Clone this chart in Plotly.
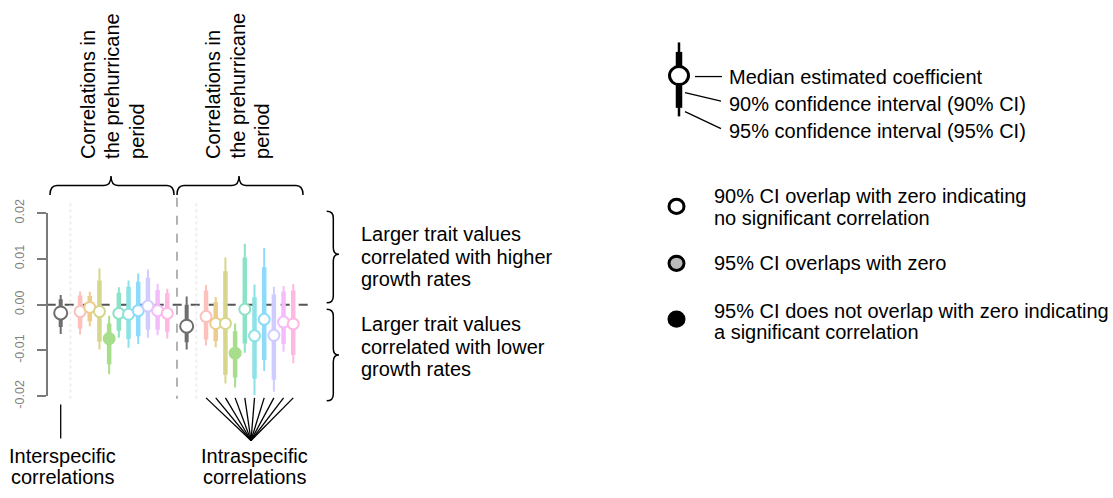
import plotly.graph_objects as go

W, H = 1113, 498

# ---------------- data ----------------
species_colors = ["#F8766D", "#D89000", "#A3A500", "#39B600", "#00BF7D",
                  "#00BFC4", "#00B0F6", "#9590FF", "#E76BF3", "#FF62BC"]

# interspecific estimate, first block
set1_inter_med = -0.0018
set1_inter_lo95 = -0.0064
set1_inter_lo90 = -0.0049
set1_inter_hi90 = 0.0012
set1_inter_hi95 = 0.0021

# intraspecific estimates, first block
set1_med = [-0.0015, -0.0006, -0.0015, -0.0074, -0.0019, -0.0021, -0.0013, -0.0003, -0.0013, -0.0019]
set1_lo95 = [-0.0065, -0.0047, -0.0098, -0.0152, -0.0072, -0.0094, -0.0086, -0.0072, -0.0067, -0.0074]
set1_lo90 = [-0.0052, -0.0036, -0.0081, -0.0130, -0.0057, -0.0075, -0.0069, -0.0055, -0.0055, -0.0059]
set1_hi90 = [0.0020, 0.0019, 0.0053, -0.0041, 0.0026, 0.0039, 0.0050, 0.0059, 0.0032, 0.0025]
set1_hi95 = [0.0029, 0.0028, 0.0079, -0.0024, 0.0038, 0.0053, 0.0068, 0.0077, 0.0046, 0.0035]

# interspecific estimate, second block
set2_inter_med = -0.0047
set2_inter_lo95 = -0.0098
set2_inter_lo90 = -0.0082
set2_inter_hi90 = 0.0000
set2_inter_hi95 = 0.0018

# intraspecific estimates, second block
set2_med = [-0.0026, -0.0041, -0.0041, -0.0106, -0.0010, -0.0068, -0.0032, -0.0067, -0.0038, -0.0042]
set2_lo95 = [-0.0089, -0.0093, -0.0172, -0.0181, -0.0105, -0.0198, -0.0145, -0.0190, -0.0103, -0.0128]
set2_lo90 = [-0.0076, -0.0080, -0.0153, -0.0159, -0.0085, -0.0162, -0.0121, -0.0164, -0.0086, -0.0110]
set2_hi90 = [0.0031, 0.0006, 0.0073, -0.0058, 0.0103, 0.0016, 0.0082, 0.0022, 0.0029, 0.0031]
set2_hi95 = [0.0043, 0.0017, 0.0103, -0.0041, 0.0133, 0.0044, 0.0124, 0.0039, 0.0041, 0.0045]

y_ticks = [-0.02, -0.01, 0.0, 0.01, 0.02]
y_ticktext = ["-0.02", "-0.01", "0.00", "0.01", "0.02"]

group_title = ["Correlations in", "the prehurricane", "period"]
upper_note = ["Larger trait values", "correlated with higher", "growth rates"]
lower_note = ["Larger trait values", "correlated with lower", "growth rates"]
key_lines = ["Median estimated coefficient",
             "90% confidence interval (90% CI)",
             "95% confidence interval (95% CI)"]
sig_open = ["90% CI overlap with zero indicating", "no significant correlation"]
sig_gray = ["95% CI overlaps with zero"]
sig_full = ["95% CI does not overlap with zero indicating", "a significant correlation"]
inter_label = ["Interspecific", "correlations"]
intra_label = ["Intraspecific", "correlations"]

# ---------------- layout geometry ----------------
X0, S = 60.7, 9.69            # pixel of slot 0, pixels per slot
ZERO_PX, PX_PER_UNIT = 306.7, 4830.0
FONT = "Liberation Sans, Arial, sans-serif"
FS = 20
GRAY = "#6e6e6e"


def slot_px(s):
    return X0 + S * s


def val_px(v):
    return ZERO_PX - PX_PER_UNIT * v


def px(x):
    return x / W


def py(y):
    return 1 - y / H


def pastel(hexc, a=0.45):
    r, g, b = (int(hexc[i:i + 2], 16) for i in (1, 3, 5))
    mix = [round(255 - a * (255 - c)) for c in (r, g, b)]
    return "rgb({},{},{})".format(*mix)


fig = go.Figure()


def add_estimate(slot, med, lo95, lo90, hi90, hi95, color, size, thin, thick):
    fig.add_trace(go.Scatter(x=[slot, slot], y=[lo95, hi95], mode="lines",
                             line=dict(color=color, width=thin), hoverinfo="skip"))
    fig.add_trace(go.Scatter(x=[slot, slot], y=[lo90, hi90], mode="lines",
                             line=dict(color=color, width=thick), hoverinfo="skip"))
    if hi95 < 0 or lo95 > 0:
        fill = color
    elif hi90 < 0 or lo90 > 0:
        fill = "#bbbbbb"
    else:
        fill = "white"
    fig.add_trace(go.Scatter(x=[slot], y=[med], mode="markers",
                             marker=dict(size=size, color=fill,
                                         line=dict(color=color, width=2))))


blocks = [
    (0, (set1_inter_med, set1_inter_lo95, set1_inter_lo90, set1_inter_hi90, set1_inter_hi95),
     (set1_med, set1_lo95, set1_lo90, set1_hi90, set1_hi95)),
    (13, (set2_inter_med, set2_inter_lo95, set2_inter_lo90, set2_inter_hi90, set2_inter_hi95),
     (set2_med, set2_lo95, set2_lo90, set2_hi90, set2_hi95)),
]

shapes = []
annotations = []

y_top_px, y_bot_px = val_px(0.02), val_px(-0.02)

# zero reference line
axis_px = 46.7
shapes.append(dict(type="line", xref="paper", yref="y", x0=px(axis_px), x1=px(311.7),
                   y0=0, y1=0, line=dict(color="#555555", width=2, dash="dash"), layer="below"))

for base, inter, intra in blocks:
    # faint guide separating interspecific and intraspecific estimates
    gx = slot_px(base + 1)
    shapes.append(dict(type="line", xref="paper", yref="paper", x0=px(gx), x1=px(gx),
                       y0=py(200), y1=py(406), line=dict(color="#ededed", width=2, dash="dot"),
                       layer="below"))
    add_estimate(base, *inter, GRAY, 13, 2, 4)
    med, lo95, lo90, hi90, hi95 = intra
    for i, c in enumerate(species_colors):
        add_estimate(base + 2 + i, med[i], lo95[i], lo90[i], hi90[i], hi95[i],
                     pastel(c), 11, 2, 4.5)

# dashed separator between blocks
sx = slot_px(12)
shapes.append(dict(type="line", xref="paper", yref="paper", x0=px(sx), x1=px(sx),
                   y0=py(194), y1=py(406), line=dict(color="#9a9a9a", width=1.5, dash="dash"),
                   layer="below"))


def hbrace(x1, x2, xm, y_end, y_body, y_tip, r=7):
    p = [
        f"M {px(x1)} {py(y_end)}",
        f"Q {px(x1)} {py(y_body)} {px(x1 + r)} {py(y_body)}",
        f"L {px(xm - r)} {py(y_body)}",
        f"Q {px(xm)} {py(y_body)} {px(xm)} {py(y_tip)}",
        f"Q {px(xm)} {py(y_body)} {px(xm + r)} {py(y_body)}",
        f"L {px(x2 - r)} {py(y_body)}",
        f"Q {px(x2)} {py(y_body)} {px(x2)} {py(y_end)}",
    ]
    return dict(type="path", xref="paper", yref="paper", path=" ".join(p),
                line=dict(color="black", width=1.5))


def vbrace(y1, y2, ym, x_end, x_body, x_tip, r=7):
    p = [
        f"M {px(x_end)} {py(y1)}",
        f"Q {px(x_body)} {py(y1)} {px(x_body)} {py(y1 + r)}",
        f"L {px(x_body)} {py(ym - r)}",
        f"Q {px(x_body)} {py(ym)} {px(x_tip)} {py(ym)}",
        f"Q {px(x_body)} {py(ym)} {px(x_body)} {py(ym + r)}",
        f"L {px(x_body)} {py(y2 - r)}",
        f"Q {px(x_body)} {py(y2)} {px(x_end)} {py(y2)}",
    ]
    return dict(type="path", xref="paper", yref="paper", path=" ".join(p),
                line=dict(color="black", width=1.5))


# braces over each block
shapes.append(hbrace(50, 174, 111, 191, 181, 171))
shapes.append(hbrace(177, 303, 239, 191, 181, 171))

# braces beside the y range
shapes.append(vbrace(val_px(0.0204), val_px(0.0004), val_px(0.0110), 326.7, 333.3, 339))
shapes.append(vbrace(val_px(-0.0010), val_px(-0.0210), val_px(-0.0110), 326.7, 333.3, 339))


def text(x, y, s, size=FS, xanchor="left", angle=0, yanchor="middle"):
    annotations.append(dict(xref="paper", yref="paper", x=px(x), y=py(y), text=s,
                            showarrow=False, xanchor=xanchor, yanchor=yanchor,
                            textangle=angle, font=dict(family=FONT, size=size, color="black")))


# rotated block titles
for cx_list in ([88.5, 112, 137], [213.5, 237.5, 262]):
    for cx, line in zip(cx_list, group_title):
        text(cx, 155, line, xanchor="center", angle=-90, yanchor="bottom")

# side notes
for yy, line in zip([232, 256, 280], upper_note):
    text(359, yy, line)
for yy, line in zip([327, 351, 375], lower_note):
    text(359, yy, line)

# bottom labels and connectors
ix = slot_px(0)
shapes.append(dict(type="line", xref="paper", yref="paper", x0=px(ix), x1=px(ix),
                   y0=py(412), y1=py(448), line=dict(color="black", width=1.3)))
for yy, line in zip([466, 489], inter_label):
    text(ix + 2, yy, line, xanchor="center")
apex = (251, 450)
for i in range(len(species_colors)):
    fx = slot_px(15 + i)
    shapes.append(dict(type="line", xref="paper", yref="paper", x0=px(fx), x1=px(apex[0]),
                       y0=py(405), y1=py(apex[1]), line=dict(color="black", width=1.3)))
for yy, line in zip([466, 489], intra_label):
    text(254, yy, line, xanchor="center")

# key: interval glyph
kx = 679
shapes.append(dict(type="line", xref="paper", yref="paper", x0=px(kx), x1=px(kx),
                   y0=py(30), y1=py(108), line=dict(color="black", width=2.5)))
shapes.append(dict(type="line", xref="paper", yref="paper", x0=px(kx), x1=px(kx),
                   y0=py(40), y1=py(99), line=dict(color="black", width=6.5)))
kr = 9.5
shapes.append(dict(type="circle", xref="paper", yref="paper", x0=px(kx - kr), x1=px(kx + kr),
                   y0=py(65 + kr), y1=py(65 - kr), fillcolor="white",
                   line=dict(color="black", width=3)))
shapes.append(dict(type="line", xref="paper", yref="paper", x0=px(695), x1=px(722),
                   y0=py(66), y1=py(66), line=dict(color="black", width=1.3)))
shapes.append(dict(type="line", xref="paper", yref="paper", x0=px(685), x1=px(721),
                   y0=py(83), y1=py(92), line=dict(color="black", width=1.3)))
shapes.append(dict(type="line", xref="paper", yref="paper", x0=px(685), x1=px(721),
                   y0=py(103), y1=py(121), line=dict(color="black", width=1.3)))
for yy, line in zip([66, 95, 123], key_lines):
    text(727, yy, line)

# key: significance markers
for cy, fill in ((203, "white"), (263, "#bbbbbb"), (322, "black")):
    r = 7.5
    shapes.append(dict(type="circle", xref="paper", yref="paper", x0=px(676.5 - r),
                       x1=px(676.5 + r), y0=py(cy + r), y1=py(cy - r), fillcolor=fill,
                       line=dict(color="black", width=3)))
for yy, line in zip([192, 215], sig_open):
    text(712, yy, line)
for yy, line in zip([263], sig_gray):
    text(712, yy, line)
for yy, line in zip([313, 336], sig_full):
    text(712, yy, line)

fig.update_layout(
    width=W, height=H, margin=dict(l=0, r=0, t=0, b=0),
    paper_bgcolor="white", plot_bgcolor="rgba(0,0,0,0)", showlegend=False,
    shapes=shapes, annotations=annotations,
    xaxis=dict(domain=[0, 1], range=[(0 - X0) / S, (W - X0) / S], visible=False,
               fixedrange=True),
    yaxis=dict(domain=[py(y_bot_px), py(y_top_px)], range=[-0.02, 0.02],
               anchor="free", position=px(axis_px), showgrid=False, zeroline=False,
               showline=True, linecolor="#7a7a7a", linewidth=2,
               ticks="outside", ticklen=9, tickwidth=2, tickcolor="#7a7a7a",
               tickvals=y_ticks, ticktext=y_ticktext, tickangle=-90,
               ticklabelstandoff=8,
               tickfont=dict(family=FONT, size=12.5, color="#7f7f7f"), fixedrange=True),
)

fig.write_html("out.html")
